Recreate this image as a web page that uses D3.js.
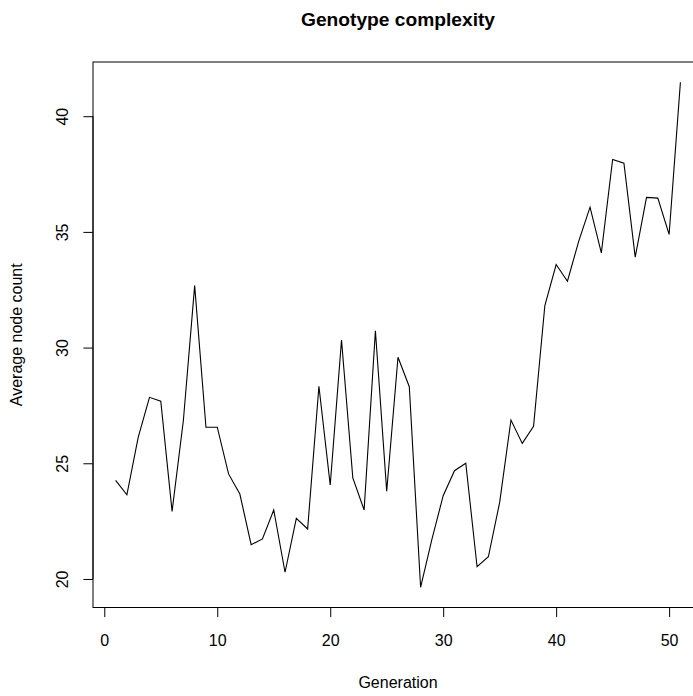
<!DOCTYPE html>
<html>
<head>
<meta charset="utf-8">
<script src="https://cdn.jsdelivr.net/npm/d3@7/dist/d3.min.js"></script>
<style>
  html, body { margin: 0; padding: 0; background: #fff; }
  svg { display: block; font-family: "Liberation Sans", Arial, Helvetica, sans-serif; }
</style>
</head>
<body>
<svg id="chart" width="693" height="696"></svg>
<script>
// Average node count of genotypes per generation
const generations = d3.range(1, 52);
const avgNodeCount = [
  24.26, 23.64, 26.12, 27.85, 27.68, 22.92, 26.85, 32.68, 26.56, 26.56,
  24.54, 23.67, 21.48, 21.73, 22.98, 20.29, 22.62, 22.16, 28.33, 24.06,
  30.33, 24.37, 22.98, 30.73, 23.79, 29.58, 28.31, 19.64, 21.71, 23.60,
  24.68, 25.00, 20.53, 20.96, 23.31, 26.87, 25.86, 26.60, 31.82, 33.59,
  32.87, 34.60, 36.07, 34.09, 38.13, 37.97, 33.91, 36.49, 36.46, 34.89,
  41.47
];
const xTicks = [0, 10, 20, 30, 40, 50];
const yTicks = [20, 25, 30, 35, 40];
const titleText = "Genotype complexity";
const xLabel = "Generation";
const yLabel = "Average node count";

const W = 693, H = 696;
const plot = { left: 93, right: 703, top: 62, bottom: 607.5 };

// axis ranges padded by 4% on each side
function padded(ext) {
  const d = (ext[1] - ext[0]) * 0.04;
  return [ext[0] - d, ext[1] + d];
}

const x = d3.scaleLinear()
  .domain(padded(d3.extent(generations)))
  .range([plot.left, plot.right]);
const y = d3.scaleLinear()
  .domain(padded(d3.extent(avgNodeCount)))
  .range([plot.bottom, plot.top]);

const svg = d3.select("#chart");

// plot frame
svg.append("rect")
  .attr("x", plot.left).attr("y", plot.top)
  .attr("width", plot.right - plot.left)
  .attr("height", plot.bottom - plot.top)
  .attr("fill", "none").attr("stroke", "#000").attr("stroke-width", 1);

// data line
const line = d3.line()
  .x((d, i) => x(generations[i]))
  .y(d => y(d));
svg.append("path")
  .datum(avgNodeCount)
  .attr("d", line)
  .attr("fill", "none")
  .attr("stroke", "#000")
  .attr("stroke-width", 1.1)
  .attr("stroke-linejoin", "miter");

// bottom axis
const xAxis = d3.axisBottom(x).tickValues(xTicks).tickSize(9.6).tickPadding(18).tickSizeOuter(0);
const gx = svg.append("g")
  .attr("transform", `translate(0,${plot.bottom})`)
  .call(xAxis);
gx.select(".domain").attr("d", `M${x(xTicks[0])},0H${x(xTicks[xTicks.length - 1])}`);
gx.selectAll("text").attr("font-size", 16).attr("font-family", null).attr("fill", "#000");
gx.selectAll("line, path").attr("stroke", "#000");

// left axis, labels rotated to read upwards
const yAxis = d3.axisLeft(y).tickValues(yTicks).tickSize(9.6).tickSizeOuter(0);
const gy = svg.append("g")
  .attr("transform", `translate(${plot.left},0)`)
  .call(yAxis);
gy.select(".domain").attr("d", `M0,${y(yTicks[0])}V${y(yTicks[yTicks.length - 1])}`);
gy.selectAll("line, path").attr("stroke", "#000");
gy.selectAll(".tick text")
  .attr("font-size", 16).attr("font-family", null).attr("fill", "#000")
  .attr("x", null).attr("dy", null)
  .attr("text-anchor", "middle")
  .attr("transform", "translate(-25,0) rotate(-90)");

// title and axis titles
svg.append("text")
  .attr("x", (plot.left + plot.right) / 2).attr("y", 26)
  .attr("text-anchor", "middle")
  .attr("font-weight", "bold").attr("font-size", 19.2)
  .text(titleText);

svg.append("text")
  .attr("x", (plot.left + plot.right) / 2).attr("y", 688)
  .attr("text-anchor", "middle")
  .attr("font-size", 16)
  .text(xLabel);

svg.append("text")
  .attr("transform", `translate(22,${(plot.top + plot.bottom) / 2}) rotate(-90)`)
  .attr("text-anchor", "middle")
  .attr("font-size", 16)
  .text(yLabel);
</script>
</body>
</html>
